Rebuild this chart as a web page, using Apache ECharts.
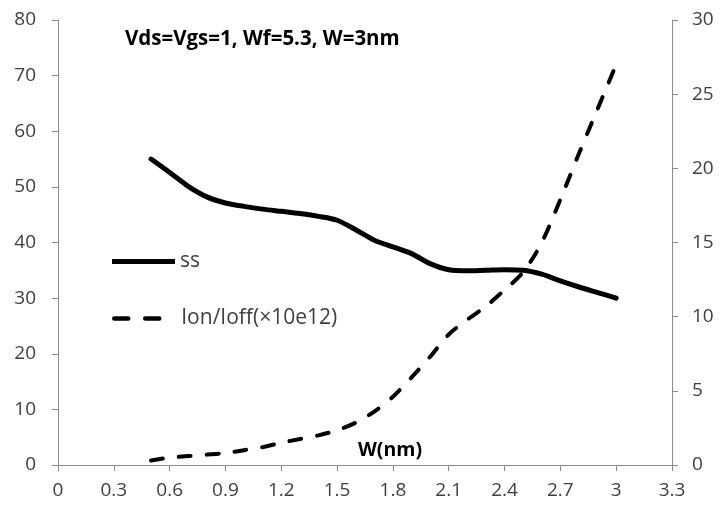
<!DOCTYPE html>
<html>
<head>
<meta charset="utf-8">
<script src="https://cdn.jsdelivr.net/npm/echarts@6/dist/echarts.min.js"></script>
<style>
  html, body { margin: 0; padding: 0; background: #fff; }
  #chart { width: 721px; height: 511px; }
</style>
</head>
<body>
<div id="chart"></div>
<script>
// Channel width W (nm) sample points
const widths = [0.5, 0.6, 0.7, 0.8, 0.9, 1.0, 1.1, 1.2, 1.3, 1.4, 1.5, 1.6, 1.7, 1.8, 1.9, 2.0, 2.1, 2.2, 2.3, 2.4, 2.5, 2.6, 2.7, 2.8, 2.9, 3.0];
// Subthreshold swing (left axis)
const ssValues = [55, 52.6, 50.1, 48.2, 47.1, 46.5, 46.0, 45.6, 45.2, 44.7, 44.0, 42.3, 40.4, 39.2, 38.0, 36.2, 35.1, 34.9, 35.0, 35.1, 35.0, 34.3, 33.1, 32.0, 31.0, 30.0];
// On/off current ratio in units of 10e12 (right axis)
const ionIoffValues = [0.3, 0.5, 0.6, 0.7, 0.8, 1.0, 1.2, 1.5, 1.75, 2.0, 2.35, 2.85, 3.6, 4.6, 5.9, 7.3, 8.8, 9.8, 10.7, 11.8, 13.0, 15.0, 17.9, 21.0, 24.0, 27.0];

const ssName = 'ss';
const ratioName = 'Ion/Ioff(×10e12)';
const titleText = 'Vds=Vgs=1, Wf=5.3, W=3nm';
const xAxisName = 'W(nm)';

const pair = (xs, ys) => xs.map((x, i) => [x, ys[i]]);

const font = '"Open Sans", Lato, sans-serif';
const axisGray = '#8c8c8c';
const labelColor = '#404040';

const chart = echarts.init(document.getElementById('chart'));
chart.setOption({
  animation: false,
  backgroundColor: '#fff',
  textStyle: { fontFamily: font },
  title: {
    text: titleText,
    left: 125,
    top: 29,
    padding: 0,
    textStyle: { fontFamily: font, fontWeight: 'bold', fontSize: 20.5, color: '#000' }
  },
  grid: { left: 58, right: 49, top: 20, bottom: 46, outerBoundsMode: 'none', containLabel: false },
  legend: [
    {
      data: [{ name: ssName, icon: 'rect' }],
      left: 112,
      top: 251,
      padding: 0,
      itemWidth: 63,
      itemHeight: 5,
      itemGap: 0,
      itemStyle: { color: '#000', borderWidth: 0 },
      textStyle: { fontFamily: font, fontSize: 21, color: labelColor }
    },
    {
      data: [ratioName],
      left: 112,
      top: 308,
      padding: 0,
      itemWidth: 50,
      itemHeight: 10,
      itemStyle: { color: 'transparent', borderWidth: 0 },
      lineStyle: { width: 4.5, type: [14, 17] },
      textStyle: { fontFamily: font, fontSize: 21, color: labelColor, padding: [0, 0, 0, 12] }
    }
  ],
  xAxis: {
    type: 'value',
    min: 0,
    max: 3.3,
    interval: 0.3,
    name: xAxisName,
    nameLocation: 'middle',
    nameGap: -25,
    nameMoveOverlap: false,
    nameTextStyle: { fontFamily: font, fontWeight: 'bold', fontSize: 19.5, color: '#000', padding: [0, 0, 0, 50] },
    axisLine: { lineStyle: { color: axisGray, width: 1 } },
    axisTick: { show: true, length: 6, lineStyle: { color: axisGray } },
    axisLabel: {
      fontFamily: font, fontSize: 19, color: labelColor, margin: 16,
      formatter: v => String(+v.toFixed(1))
    },
    splitLine: { show: false }
  },
  yAxis: [
    {
      type: 'value',
      min: 0,
      max: 80,
      interval: 10,
      position: 'left',
      axisLine: { show: true, lineStyle: { color: axisGray, width: 1 } },
      axisTick: { show: true, length: 6, lineStyle: { color: axisGray } },
      axisLabel: { fontFamily: font, fontSize: 19, color: labelColor, margin: 22 },
      splitLine: { show: false }
    },
    {
      type: 'value',
      min: 0,
      max: 30,
      interval: 5,
      position: 'right',
      axisLine: { show: true, lineStyle: { color: axisGray, width: 1 } },
      axisTick: { show: true, length: 6, lineStyle: { color: axisGray } },
      axisLabel: { fontFamily: font, fontSize: 19, color: labelColor, margin: 20 },
      splitLine: { show: false }
    }
  ],
  series: [
    {
      name: ssName,
      type: 'line',
      yAxisIndex: 0,
      data: pair(widths, ssValues),
      smooth: 0.3,
      showSymbol: false,
      symbol: 'none',
      color: '#000',
      lineStyle: { color: '#000', width: 5, cap: 'round', join: 'round' }
    },
    {
      name: ratioName,
      type: 'line',
      yAxisIndex: 1,
      data: pair(widths, ionIoffValues),
      smooth: 0.3,
      showSymbol: false,
      symbol: 'none',
      color: '#000',
      lineStyle: { color: '#000', width: 4, type: [12, 16], cap: 'round', join: 'round' }
    }
  ]
});
</script>
</body>
</html>
